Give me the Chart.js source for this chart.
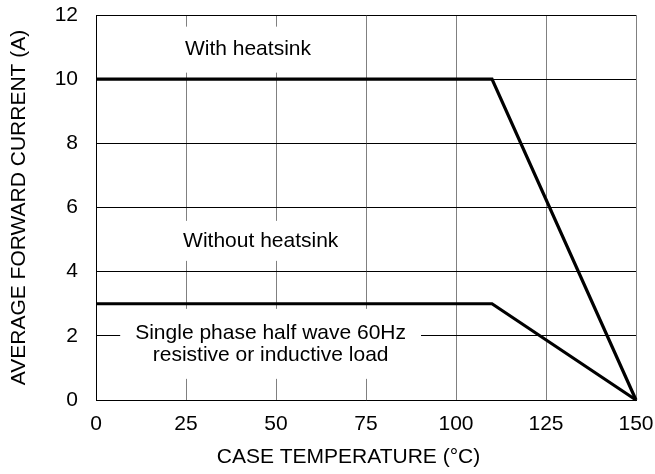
<!DOCTYPE html>
<html>
<head>
<meta charset="utf-8">
<script src="https://cdn.jsdelivr.net/npm/chart.js@4.4.1/dist/chart.umd.min.js"></script>
<style>
  html, body { margin: 0; padding: 0; background: #fff; }
  canvas { display: block; }
</style>
</head>
<body>
<canvas id="c" width="655" height="474"></canvas>
<script>
// ---- data ----
const caseTemps = [0, 110, 150];            // °C
const withHeatsink = [10, 10, 0];           // A
const withoutHeatsink = [3, 3, 0];          // A
const xTickValues = [0, 25, 50, 75, 100, 125, 150];
const yTickValues = [0, 2, 4, 6, 8, 10, 12];
const xTitle = 'CASE TEMPERATURE (°C)';
const yTitle = 'AVERAGE FORWARD CURRENT (A)';
const noteLines = [
  ['With heatsink'],
  ['Without heatsink'],
  ['Single phase half wave 60Hz', 'resistive or inductive load']
];
const noteAnchorX = [24.7, 24.2, 48.5];
const noteAnchorY = [10.92, 4.96, 1.75];

const FONT = '"Liberation Sans", Arial, sans-serif';
const FS = 21;

const notesPlugin = {
  id: 'notes',
  beforeDatasetsDraw(chart) {
    const { ctx } = chart;
    const xs = chart.scales.x, ys = chart.scales.y;
    const styles = [
      { align: 'left', padX: 12, padY: 12 },
      { align: 'left', padX: 12, padY: 9 },
      { align: 'center', padX: 15, padY: 13 }
    ];
    const lh = 22;
    ctx.save();
    ctx.font = FS + 'px ' + FONT;
    noteLines.forEach((lines, i) => {
      const st = styles[i];
      const cx = xs.getPixelForValue(noteAnchorX[i]);
      const cy = ys.getPixelForValue(noteAnchorY[i]);
      const w = Math.max(...lines.map(t => ctx.measureText(t).width));
      const left = st.align === 'left' ? cx : cx - w / 2;
      const h = lh * lines.length;
      const top = cy - h / 2;
      ctx.fillStyle = '#fff';
      ctx.fillRect(left - st.padX, top - st.padY, w + 2 * st.padX, h + 2 * st.padY);
      ctx.fillStyle = '#000';
      ctx.textBaseline = 'middle';
      ctx.textAlign = st.align === 'left' ? 'left' : 'center';
      lines.forEach((t, j) => {
        ctx.fillText(t, st.align === 'left' ? left : cx, top + lh * (j + 0.5));
      });
    });
    ctx.restore();
  }
};

const mk = (arr) => caseTemps.map((t, i) => ({ x: t, y: arr[i] }));

new Chart(document.getElementById('c'), {
  type: 'line',
  data: {
    datasets: [
      { label: 'With heatsink', data: mk(withHeatsink), borderColor: '#000', borderWidth: 3.2,
        pointRadius: 0, tension: 0, clip: false, borderJoinStyle: 'miter', fill: false },
      { label: 'Without heatsink', data: mk(withoutHeatsink), borderColor: '#000', borderWidth: 3.2,
        pointRadius: 0, tension: 0, clip: false, borderJoinStyle: 'miter', fill: false }
    ]
  },
  options: {
    responsive: false,
    devicePixelRatio: 1,
    animation: false,
    events: [],
    layout: { padding: { top: 15, right: 19, left: 0, bottom: 0 } },
    plugins: { legend: { display: false }, tooltip: { enabled: false } },
    scales: {
      x: {
        type: 'linear', min: 0, max: 150,
        afterFit(s) { s.height = 74; s.paddingLeft = 0; s.paddingRight = 0; },
        afterBuildTicks(s) { s.ticks = xTickValues.map(v => ({ value: v })); },
        ticks: { color: '#000', font: { family: FONT, size: FS }, padding: 12, maxRotation: 0 },
        grid: { color: '#808080', lineWidth: 1, drawTicks: false },
        border: { color: '#000', width: 1 },
        title: { display: true, text: xTitle + '      ', color: '#000',
                 font: { family: FONT, size: FS }, padding: { top: 0, bottom: 4 } }
      },
      y: {
        type: 'linear', min: 0, max: 12,
        afterFit(s) { s.width = 96; s.paddingTop = 0; s.paddingBottom = 0; },
        afterBuildTicks(s) { s.ticks = yTickValues.map(v => ({ value: v })); },
        ticks: { color: '#000', font: { family: FONT, size: FS }, padding: 18 },
        grid: { color: '#000', lineWidth: 1, drawTicks: false },
        border: { color: '#000', width: 1 },
        title: { display: true, text: yTitle, color: '#000',
                 font: { family: FONT, size: FS }, padding: { top: 7, bottom: 0 } }
      }
    }
  },
  plugins: [notesPlugin]
});
</script>
</body>
</html>
